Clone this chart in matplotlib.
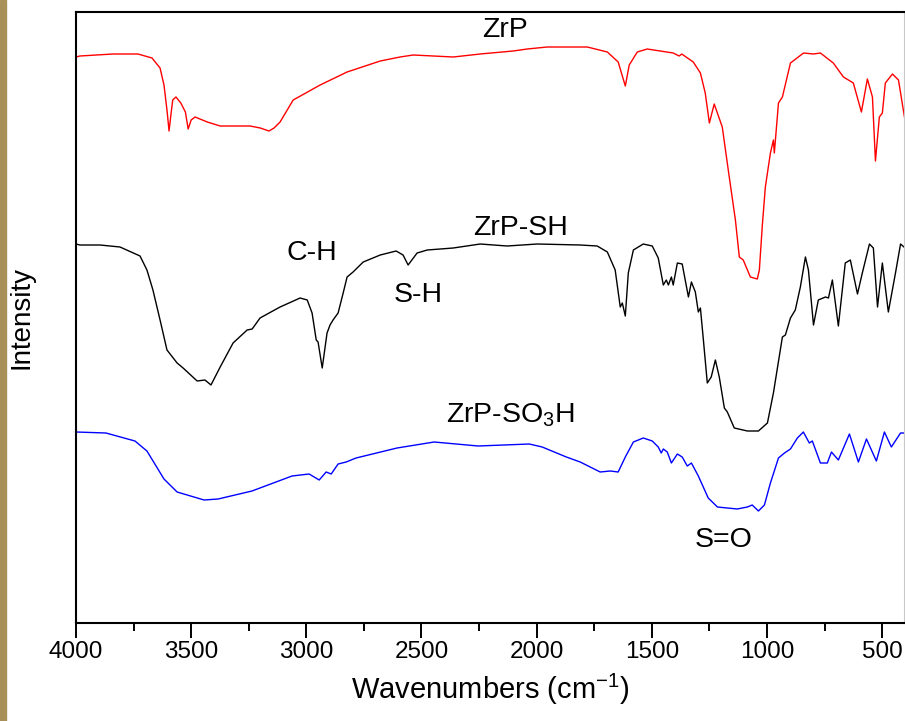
import matplotlib.pyplot as plt
from matplotlib.patches import Rectangle
from matplotlib.ticker import MultipleLocator, NullLocator

# ---- data (wavenumber cm-1, intensity a.u.) ----
zrp_w = [4000, 3983, 3839, 3731, 3670, 3635, 3618, 3605, 3596, 3588, 3580, 3566, 3545, 3525,
         3513, 3500, 3483, 3430, 3374, 3244, 3200, 3162, 3140, 3114, 3057, 2940, 2823, 2679,
         2593, 2536, 2362, 2245, 2102, 2041, 1954, 1780, 1693, 1646, 1615, 1598, 1563, 1520,
         1407, 1390, 1381, 1370, 1320, 1289, 1268, 1250, 1229, 1194, 1168, 1137, 1120, 1103,
         1072, 1042, 1033, 1020, 1007, 985, 972, 968, 950, 933, 898, 841, 798, 768, 712, 668,
         625, 590, 564, 542, 529, 512, 499, 486, 455, 429, 403]
zrp_i = [566, 567, 569, 569, 565, 555, 538, 513, 492, 508, 523, 526, 520, 511,
         494, 503, 506, 501, 497, 497, 495, 492, 495, 501, 523, 538, 551, 562,
         566, 568, 566, 569, 572, 574, 576, 576, 571, 561, 537, 558, 571, 574,
         570, 568, 567, 569, 561, 550, 530, 500, 519, 496, 453, 403, 366, 363,
         346, 344, 353, 398, 436, 470, 483, 470, 520, 526, 560, 570, 569, 570, 560, 546,
         540, 511, 544, 526, 462, 506, 510, 540, 549, 543, 506]

zrpsh_w = [4000, 3983, 3896, 3809, 3722, 3692, 3666, 3635, 3605, 3561, 3535, 3474, 3440, 3414,
           3374, 3318, 3257, 3235, 3201, 3114, 3027, 2996, 2975, 2957, 2949, 2931, 2910, 2897,
           2884, 2862, 2840, 2823, 2797, 2753, 2679, 2610, 2580, 2558, 2519, 2475, 2362, 2245,
           2128, 1997, 1811, 1737, 1693, 1659, 1637, 1628, 1615, 1602, 1580, 1537, 1498, 1472,
           1450, 1437, 1428, 1415, 1407, 1389, 1368, 1341, 1328, 1311, 1298, 1289, 1276, 1259,
           1242, 1224, 1207, 1185, 1172, 1142, 1085, 1037, 998, 972, 933, 920, 898, 877, 855,
           833, 820, 798, 777, 746, 733, 716, 690, 660, 638, 607, 586, 555, 538, 520, 499, 473,
           442, 420, 405]
zrpsh_i = [379, 378, 378, 376, 367, 353, 333, 303, 273, 260, 255, 242, 243, 238,
           256, 280, 293, 294, 305, 316, 325, 323, 310, 283, 281, 255, 290, 298,
           303, 310, 330, 346, 351, 361, 368, 372, 368, 358, 370, 373, 375, 379,
           377, 379, 378, 377, 371, 353, 316, 320, 307, 350, 373, 379, 377, 365,
           338, 343, 338, 346, 338, 360, 359, 326, 341, 331, 311, 315, 283, 240,
           246, 263, 246, 215, 211, 195, 192, 192, 200, 230, 286, 288, 305, 313, 336,
           366, 353, 298, 323, 326, 325, 343, 297, 360, 363, 329, 350, 379, 375, 316, 360, 311,
           350, 379, 376]

zrpso3h_w = [4000, 3870, 3744, 3692, 3618, 3561, 3444, 3383, 3236, 3062, 2988, 2944, 2914, 2892,
             2862, 2827, 2784, 2606, 2445, 2254, 2032, 1976, 1871, 1811, 1724, 1680, 1646, 1615,
             1580, 1537, 1498, 1472, 1459, 1450, 1433, 1415, 1389, 1368, 1346, 1328, 1298, 1255,
             1215, 1172, 1129, 1085, 1064, 1037, 1011, 985, 950, 924, 898, 868, 842, 816, 803,
             768, 738, 720, 690, 642, 603, 568, 525, 490, 460, 420, 405]
zrpso3h_i = [191, 190, 182, 172, 144, 131, 123, 124, 132, 147, 149, 143, 151, 149,
             159, 161, 165, 175, 181, 177, 179, 176, 166, 161, 151, 152, 151, 166,
             181, 185, 182, 176, 170, 174, 171, 160, 169, 166, 157, 160, 147, 125,
             116, 115, 114, 116, 118, 112, 118, 140, 165, 170, 174, 185, 191, 180, 182,
             160, 160, 171, 163, 189, 161, 184, 162, 191, 176, 190, 190]

# annotation text and anchor (wavenumber, intensity)
labels = [("ZrP", 2136, 593), ("C-H", 2975, 370), ("S-H", 2514, 328),
          ("ZrP-SH", 2071, 395), ("ZrP-SO$_3$H", 2114, 208), ("S=O", 1189, 83)]

plt.rcParams['font.family'] = ['Liberation Sans', 'DejaVu Sans']
plt.rcParams['mathtext.fontset'] = 'custom'
plt.rcParams['mathtext.rm'] = 'Liberation Sans'

fig = plt.figure(figsize=(9.05, 7.21), dpi=100)
fig.patches.append(Rectangle((0, 0), 6 / 905, 1, transform=fig.transFigure,
                             color='#a89058', zorder=0))
ax = fig.add_axes([76 / 905, 98 / 721, 828 / 905, 611 / 721])

ax.plot(zrp_w, zrp_i, color='#ff0000', lw=1.0)
ax.plot(zrpsh_w, zrpsh_i, color='black', lw=1.0)
ax.plot(zrpso3h_w, zrpso3h_i, color='#0000ff', lw=1.0)

for txt, x, y in labels:
    ax.text(x, y, txt, fontsize=20.5, ha='center', va='center')

ax.set_xlim(4000, 405)
ax.set_ylim(0, 611)
ax.xaxis.set_major_locator(MultipleLocator(500))
ax.xaxis.set_minor_locator(MultipleLocator(250))
ax.yaxis.set_major_locator(NullLocator())
ax.tick_params(axis='x', which='major', direction='out', length=11, width=1.4,
               labelsize=17.5, pad=2)
ax.tick_params(axis='x', which='minor', direction='out', length=6, width=1.4)

for s in ['left', 'bottom', 'top']:
    ax.spines[s].set_linewidth(1.5)
ax.spines['right'].set_color('#c8c8c8')
ax.spines['right'].set_linewidth(0.8)

ax.set_xlabel('Wavenumbers (cm$^{-1}$)', fontsize=21, labelpad=6)
ax.set_ylabel('Intensity', fontsize=20)
ax.yaxis.set_label_coords(-0.05, 0.5)

fig.savefig('out.png', dpi=100)
